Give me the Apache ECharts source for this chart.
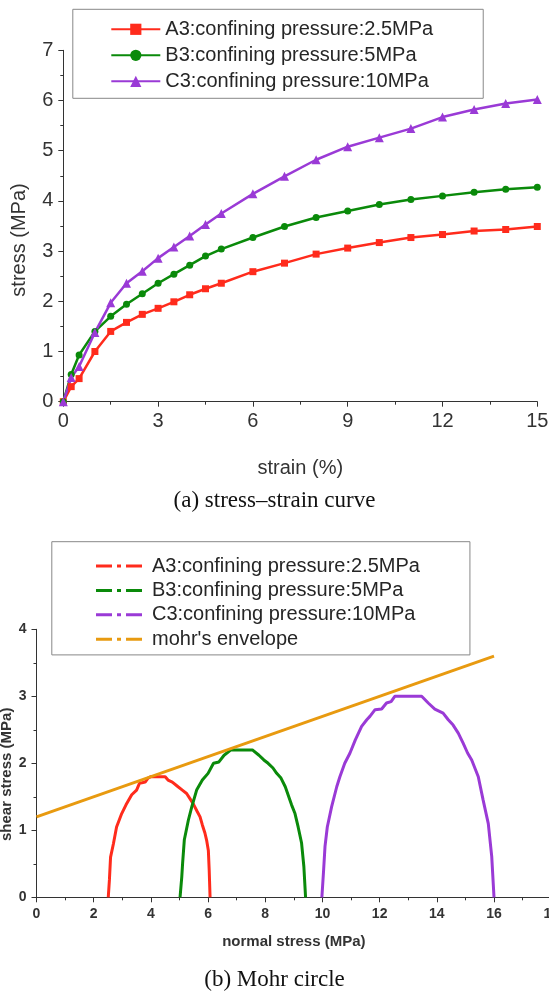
<!DOCTYPE html>
<html><head><meta charset="utf-8">
<script src="https://cdn.jsdelivr.net/npm/echarts@6/dist/echarts.min.js"></script>
<style>html,body{margin:0;padding:0;background:#fff}#c{width:549px;height:996px}</style>
</head><body><div id="c"></div>
<script>
// ---------- (a) stress-strain data ----------
const strain = [0, 0.25, 0.5, 1, 1.5, 2, 2.5, 3, 3.5, 4, 4.5, 5, 6, 7, 8, 9, 10, 11, 12, 13, 14, 15];
const stressA3 = [0, 0.30, 0.46, 1.00, 1.40, 1.58, 1.74, 1.86, 1.99, 2.13, 2.25, 2.36, 2.59, 2.76, 2.94, 3.06, 3.17, 3.27, 3.33, 3.40, 3.43, 3.49];
const stressB3 = [0, 0.54, 0.93, 1.40, 1.70, 1.94, 2.15, 2.36, 2.54, 2.72, 2.90, 3.04, 3.27, 3.49, 3.67, 3.80, 3.93, 4.03, 4.10, 4.17, 4.23, 4.27];
const stressC3 = [0, 0.48, 0.70, 1.38, 1.97, 2.36, 2.60, 2.86, 3.08, 3.30, 3.53, 3.75, 4.14, 4.49, 4.82, 5.08, 5.26, 5.44, 5.67, 5.82, 5.94, 6.02];

// ---------- (b) Mohr circle data: [normal stress, shear stress] ----------
const circleA3 = [[2.51,0],[2.55,0.26],[2.59,0.6],[2.69,0.8],[2.8,1.05],[2.98,1.25],[3.13,1.38],[3.33,1.53],[3.5,1.6],[3.6,1.7],[3.8,1.72],[3.9,1.78],[4.0,1.8],[4.5,1.8],[4.6,1.75],[4.75,1.72],[4.8,1.7],[4.95,1.65],[5.1,1.6],[5.25,1.55],[5.4,1.45],[5.5,1.38],[5.62,1.28],[5.72,1.2],[5.8,1.08],[5.89,0.96],[5.95,0.85],[6.01,0.7],[6.04,0.4],[6.07,0]];
const circleB3 = [[5.02,0],[5.08,0.3],[5.11,0.51],[5.17,0.86],[5.31,1.15],[5.43,1.35],[5.6,1.6],[5.8,1.75],[6.0,1.85],[6.19,2.0],[6.38,2.02],[6.56,2.12],[6.8,2.2],[7.55,2.2],[7.78,2.12],[7.95,2.05],[8.1,2.0],[8.27,1.93],[8.4,1.85],[8.55,1.78],[8.7,1.65],[8.92,1.38],[9.04,1.25],[9.15,1.05],[9.27,0.81],[9.35,0.46],[9.41,0]];
const circleC3 = [[9.98,0],[10.04,0.4],[10.09,0.76],[10.17,1.05],[10.32,1.35],[10.5,1.65],[10.61,1.8],[10.78,2.0],[10.96,2.15],[11.15,2.35],[11.37,2.55],[11.55,2.65],[11.66,2.7],[11.84,2.8],[12.07,2.81],[12.24,2.9],[12.4,2.92],[12.53,3.0],[13.47,3.0],[13.7,2.9],[13.93,2.81],[14.22,2.75],[14.4,2.65],[14.57,2.57],[14.75,2.45],[14.92,2.3],[15.08,2.15],[15.22,2.05],[15.45,1.8],[15.62,1.45],[15.8,1.1],[15.92,0.61],[16.0,0]];
const envelope = [[0,1.2],[16,3.6]];

const names = ['A3:confining pressure:2.5MPa','B3:confining pressure:5MPa','C3:confining pressure:10MPa'];
const envName = "mohr's envelope";
const captionA = '(a) stress\u2013strain curve';
const captionB = '(b) Mohr circle';

const RED = '#ff2b1c', GREEN = '#0a8a0a', PURPLE = '#9a3ad6', ORANGE = '#e89a10';
const SANS = 'Liberation Sans, Arial, sans-serif';
const SERIF = 'Liberation Serif, Times New Roman, serif';
const AX = '#333';
const SUF = '#b';

const zip = (xs, ys) => xs.map((x, i) => [x, ys[i]]);

function axisCommon(fs, bold, margin) {
  return {
    nameMoveOverlap: false,
    axisLine: {show: true, onZero: false, lineStyle: {color: AX, width: 1}},
    axisTick: {show: true, inside: false, length: 5, lineStyle: {color: AX}},
    minorTick: {show: true, splitNumber: 2, length: 3, lineStyle: {color: AX}},
    splitLine: {show: false},
    axisLabel: {fontSize: fs, color: '#333', fontFamily: SANS, fontWeight: bold ? 'bold' : 'normal', margin: margin}
  };
}

const chart = echarts.init(document.getElementById('c'), null, {renderer: 'canvas'});
const dash = [16, 5, 4, 5];
chart.setOption({
  backgroundColor: '#fff',
  animation: false,
  grid: [
    {left: 63.3, top: 50.3, width: 474, height: 351.4, containLabel: false, outerBoundsMode: 'none'},
    {left: 36.5, top: 629.3, width: 514.7, height: 268, containLabel: false, outerBoundsMode: 'none'}
  ],
  xAxis: [
    Object.assign(axisCommon(20, false, 10), {
      type: 'value', gridIndex: 0, min: 0, max: 15, interval: 3,
      name: 'strain (%)', nameLocation: 'middle', nameGap: 57,
      nameTextStyle: {fontSize: 20, color: '#333', fontFamily: SANS}
    }),
    Object.assign(axisCommon(14, true, 10), {
      type: 'value', gridIndex: 1, min: 0, max: 18, interval: 2,
      name: 'normal stress (MPa)', nameLocation: 'middle', nameGap: 37,
      nameTextStyle: {fontSize: 15, fontWeight: 'bold', color: '#333', fontFamily: SANS}
    })
  ],
  yAxis: [
    Object.assign(axisCommon(20, false, 10), {
      type: 'value', gridIndex: 0, min: 0, max: 7, interval: 1,
      name: 'stress (MPa)', nameLocation: 'middle', nameGap: 34,
      nameTextStyle: {fontSize: 20, color: '#333', fontFamily: SANS, padding: [0, 28, 0, 0]}
    }),
    Object.assign(axisCommon(14, true, 10), {
      type: 'value', gridIndex: 1, min: 0, max: 4, interval: 1,
      name: 'shear stress (MPa)', nameLocation: 'middle', nameGap: 22,
      nameTextStyle: {fontSize: 15, fontWeight: 'bold', color: '#333', fontFamily: SANS, padding: [0, 22, 0, 0]}
    })
  ],
  legend: [
    {
      orient: 'vertical', left: 72.8, top: 9.3,
      padding: [10, 50, 7, 37.5], itemGap: 6, itemWidth: 49, itemHeight: 14,
      backgroundColor: '#fff', borderColor: '#888', borderWidth: 1, borderRadius: 0,
      textStyle: {fontSize: 20, color: '#262626', fontFamily: SANS},
      data: names
    },
    {
      orient: 'vertical', left: 51.8, top: 541.7,
      padding: [14.3, 50, 5.7, 42.7], itemGap: 4.4, itemWidth: 51, itemHeight: 14,
      backgroundColor: '#fff', borderColor: '#888', borderWidth: 1, borderRadius: 0,
      textStyle: {fontSize: 20, color: '#262626', fontFamily: SANS},
      formatter: n => n.replace(SUF, ''),
      lineStyle: {type: dash, width: 3},
      itemStyle: {color: 'rgba(0,0,0,0)', opacity: 0, borderWidth: 0},
      data: [names[0] + SUF, names[1] + SUF, names[2] + SUF, envName]
    }
  ],
  series: [
    {name: names[0], type: 'line', xAxisIndex: 0, yAxisIndex: 0, data: zip(strain, stressA3),
     symbol: 'rect', symbolSize: 7, lineStyle: {width: 2.5, color: RED}, itemStyle: {color: RED}},
    {name: names[1], type: 'line', xAxisIndex: 0, yAxisIndex: 0, data: zip(strain, stressB3),
     symbol: 'circle', symbolSize: 7, lineStyle: {width: 2.5, color: GREEN}, itemStyle: {color: GREEN}},
    {name: names[2], type: 'line', xAxisIndex: 0, yAxisIndex: 0, data: zip(strain, stressC3),
     symbol: 'triangle', symbolSize: 9, lineStyle: {width: 2.5, color: PURPLE}, itemStyle: {color: PURPLE}},
    {name: names[0] + SUF, type: 'line', xAxisIndex: 1, yAxisIndex: 1, data: circleA3, symbol: 'none',
     lineStyle: {width: 3, color: RED}, itemStyle: {color: RED}},
    {name: names[1] + SUF, type: 'line', xAxisIndex: 1, yAxisIndex: 1, data: circleB3, symbol: 'none',
     lineStyle: {width: 3, color: GREEN}, itemStyle: {color: GREEN}},
    {name: names[2] + SUF, type: 'line', xAxisIndex: 1, yAxisIndex: 1, data: circleC3, symbol: 'none',
     lineStyle: {width: 3, color: PURPLE}, itemStyle: {color: PURPLE}},
    {name: envName, type: 'line', xAxisIndex: 1, yAxisIndex: 1, data: envelope, symbol: 'none',
     lineStyle: {width: 3, color: ORANGE}, itemStyle: {color: ORANGE}}
  ],
  graphic: [
    {type: 'text', left: 'center', top: 489, style: {text: captionA, font: '23px ' + SERIF, fill: '#111'}},
    {type: 'text', left: 'center', top: 968, style: {text: captionB, font: '23px ' + SERIF, fill: '#111'}}
  ]
});
</script></body></html>
